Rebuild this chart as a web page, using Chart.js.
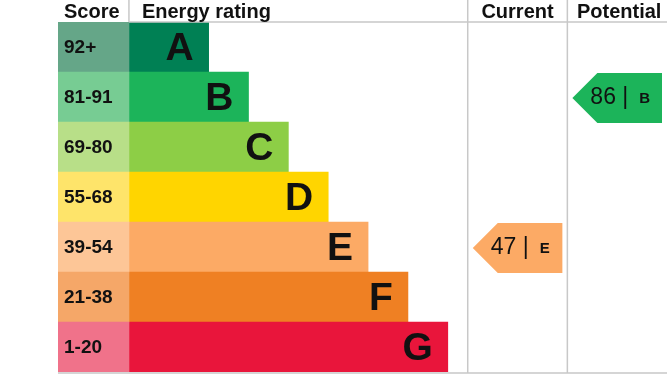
<!DOCTYPE html>
<html>
<head>
<meta charset="utf-8">
<script src="https://cdn.jsdelivr.net/npm/chart.js@4.4.1/dist/chart.umd.min.js"></script>
<style>
  html, body { margin: 0; padding: 0; background: #fff; }
  #wrap { width: 667px; height: 375px; position: relative; }
</style>
</head>
<body>
<div id="wrap"><canvas id="epc"></canvas></div>
<script>
// rating bands, top to bottom
const bands = ['A', 'B', 'C', 'D', 'E', 'F', 'G'];
const scoreRanges = ['92+', '81-91', '69-80', '55-68', '39-54', '21-38', '1-20'];
const barLength = [2, 3, 4, 5, 6, 7, 8];
const bandColors = ['#008054', '#1cb45a', '#8dce46', '#ffd500', '#fcaa65', '#ef8023', '#e9153b'];
const scoreColors = ['#65a688', '#77cc93', '#b8df88', '#fee46a', '#fdc697', '#f5a768', '#f0728a'];
const headers = ['Score', 'Energy rating', 'Current', 'Potential'];

const currentScore = 47;
const currentBand = 'E';
const potentialScore = 86;
const potentialBand = 'B';

// column edges in x-units
const scoreColStart = -1.78;
const currentCol = [8.5, 11.0];
const potentialCol = [11.0, 13.5];

const FONT = '"Liberation Sans", Arial, sans-serif';
const lineGray = '#c8c8c8';

const epcPlugin = {
  id: 'epc',
  afterDatasetsDraw(chart) {
    const ctx = chart.ctx;
    const x = chart.scales.x, y = chart.scales.y;
    const area = chart.chartArea;
    const half = (y.getPixelForValue(1) - y.getPixelForValue(0)) / 2;
    ctx.save();

    // band letters + score labels
    bands.forEach(function(b, i) {
      const cy = y.getPixelForValue(i);
      ctx.fillStyle = '#111';
      ctx.font = 'bold 39px ' + FONT;
      ctx.textAlign = 'right';
      ctx.textBaseline = 'middle';
      ctx.fillText(b, x.getPixelForValue(barLength[i]) - 15, cy + 2);

      ctx.font = 'bold 19px ' + FONT;
      ctx.textAlign = 'left';
      ctx.fillText(scoreRanges[i], x.getPixelForValue(scoreColStart) + 6, cy + 1);
    });

    // grid lines
    ctx.strokeStyle = lineGray;
    ctx.lineWidth = 1.5;
    const x0 = x.getPixelForValue(0);
    const xc = x.getPixelForValue(currentCol[0]);
    const xp = x.getPixelForValue(potentialCol[0]);
    const bottom = area.bottom + 1;
    ctx.beginPath();
    ctx.moveTo(x0, area.top); ctx.lineTo(area.right, area.top);
    ctx.moveTo(x0, 0); ctx.lineTo(x0, area.top);
    ctx.moveTo(xc, 0); ctx.lineTo(xc, bottom);
    ctx.moveTo(xp, 0); ctx.lineTo(xp, bottom);
    ctx.moveTo(area.left, bottom); ctx.lineTo(area.right, bottom);
    ctx.stroke();

    // headers
    ctx.fillStyle = '#111';
    ctx.font = 'bold 20px ' + FONT;
    ctx.textBaseline = 'alphabetic';
    ctx.textAlign = 'left';
    ctx.fillText(headers[0], area.left + 6, 18);
    ctx.fillText(headers[1], x0 + 13, 18);
    ctx.textAlign = 'center';
    ctx.fillText(headers[2], (xc + xp) / 2, 18);
    ctx.fillText(headers[3], (xp + x.getPixelForValue(potentialCol[1])) / 2 + 2, 18);

    // arrows
    function arrow(col, score, band) {
      const i = bands.indexOf(band);
      const cy = y.getPixelForValue(i);
      const left = x.getPixelForValue(col[0]) + 5;
      const right = x.getPixelForValue(col[1]) - 5;
      const top = cy - half + 1, bot = cy + half + 1;
      const tip = 25;
      ctx.fillStyle = bandColors[i];
      ctx.beginPath();
      ctx.moveTo(left, cy + 1);
      ctx.lineTo(left + tip, top);
      ctx.lineTo(right, top);
      ctx.lineTo(right, bot);
      ctx.lineTo(left + tip, bot);
      ctx.closePath();
      ctx.fill();
      ctx.fillStyle = '#111';
      ctx.textBaseline = 'middle';
      ctx.textAlign = 'left';
      ctx.font = '23px ' + FONT;
      ctx.fillText(score + ' |', left + 18, cy + 1);
      ctx.font = 'bold 15px ' + FONT;
      ctx.fillText(band, left + 67, cy + 2);
    }
    arrow(currentCol, currentScore, currentBand);
    arrow(potentialCol, potentialScore, potentialBand);

    ctx.restore();
  }
};

new Chart(document.getElementById('epc'), {
  type: 'bar',
  data: {
    labels: bands,
    datasets: [
      {
        data: bands.map(function() { return [scoreColStart, 0]; }),
        backgroundColor: scoreColors,
        barPercentage: 1,
        categoryPercentage: 1,
        grouped: false
      },
      {
        data: barLength.map(function(v) { return [0, v]; }),
        backgroundColor: bandColors,
        barPercentage: 1,
        categoryPercentage: 1,
        grouped: false
      }
    ]
  },
  options: {
    indexAxis: 'y',
    responsive: true,
    maintainAspectRatio: false,
    animation: false,
    layout: { padding: { top: 22, left: 58, right: 0, bottom: 3 } },
    scales: {
      x: { type: 'linear', min: scoreColStart, max: potentialCol[1], display: false },
      y: { display: false }
    },
    plugins: { legend: { display: false }, tooltip: { enabled: false } }
  },
  plugins: [epcPlugin]
});
</script>
</body>
</html>
